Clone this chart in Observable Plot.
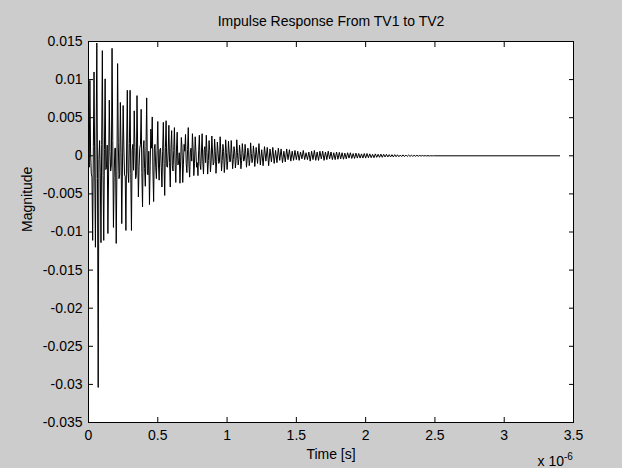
<!DOCTYPE html>
<html>
<head>
<meta charset="utf-8">
<script src="https://cdn.jsdelivr.net/npm/d3@7"></script>
<script src="https://cdn.jsdelivr.net/npm/@observablehq/plot@0.6"></script>
<style>
  html, body { margin: 0; padding: 0; background: #cccccc; }
  #chart { width: 622px; height: 468px; }
</style>
</head>
<body>
<div id="chart"></div>
<script>
// Early part of the response (0 – 1.2 µs), finely sampled, magnitudes in units of 1e-3
const earlyStartMicro = 0;
const earlyStepMicro = 0.005;
const earlyMagnitudeMilli = [
  4.0, -1.5, 9.9, 0.5, -2.3, -2.8, -11.1, 1.2, 11.0, -2.0,
  -12.0, 1.8, 14.8, -3.0, -30.4, -0.5, 2.0, -2.2, -11.4, 1.5,
  13.8, -2.6, -11.1, 0.8, 10.1, -1.8, -1.5, 1.4, -10.2, -2.4,
  7.3, 0.6, -2.0, -1.2, 14.1, 2.0, -9.4, -2.9, 1.0, 1.0,
  -11.5, -2.1, 12.1, 1.7, -3.0, -2.5, 7.0, 0.4, -8.9, -1.6,
  6.6, 1.3, -2.5, -2.7, -9.8, 0.9, 8.6, -2.0, -3.5, 1.6,
  8.6, -2.3, -9.8, 0.7, 1.5, -1.9, 5.9, 1.1, -3.0, -2.6,
  7.9, 0.5, -5.4, -1.4, 1.0, 1.5, 6.1, -2.2, -6.7, 0.8,
  2.0, -1.7, -4.0, 1.2, 7.6, -2.4, -2.5, 0.6, -6.4, -1.3,
  3.5, 1.0, 5.1, -2.0, -6.0, 0.9, 1.5, -1.5, -3.0, 0.7,
  4.5, -1.2, -3.2, 0.8, 1.0, -1.5, -4.1, 0.6, 4.4, -1.0,
  -5.2, 1.1, 4.6, -1.4, -1.5, 0.5, 4.0, -0.9, -4.1, 1.0,
  3.3, -1.3, -2.0, 0.7, 3.7, -1.1, -3.5, 0.9, 3.1, -1.2,
  -1.0, 0.4, -3.6, -0.8, 2.4, 1.0, -3.5, -1.1, 1.5, 0.6,
  2.8, -1.0, -2.2, 0.8, 3.7, -1.2, -2.8, 0.5, 1.0, -0.7,
  2.9, 0.9, -2.6, -1.0, 2.5, 0.6, -1.5, -0.9, -2.6, 0.7,
  2.7, -1.1, -1.8, 0.5, 2.9, -0.8, -2.4, 0.8, 1.2, -0.9,
  2.7, 0.4, -2.4, -0.6, 2.0, 0.7, -2.1, -0.8, 2.6, 0.5,
  -1.2, -0.9, 2.2, 0.6, -2.3, -0.7, 1.8, 0.5, -1.0, -0.8,
  2.5, 0.3, -2.0, -0.6, 1.5, 0.6, -2.2, -0.7, 2.1, 0.4,
  -1.8, -0.6, 1.9, 0.5, -0.8, -0.7, 2.0, 0.3, -1.7, -0.5,
  1.2, 0.5, -1.6, -0.6, 2.1, 0.4, -1.2, -0.5, 1.4, 0.3,
  -1.7, -0.6, 1.6, 0.4, -0.7, -0.5, 1.5, 0.3, -1.5, -0.4,
  1.0, 0.4, -1.3, -0.5, 1.7, 0.3, -0.9, -0.4, 1.3, 0.3
];
// Late part of the response (from 1.2 µs), coarser sampling, units of 1e-3
const lateStartMicro = 1.2;
const lateStepMicro = 0.01;
const lateMagnitudeMilli = [
  -1.4, 1.1, -1.0, 1.6, -1.2, 0.8, -1.3, 1.2, -0.7, 1.1,
  -1.3, 0.9, -0.8, 1.1, -1.0, 0.7, -0.9, 1.0, -0.6, 0.9,
  -0.9, 0.6, -0.8, 0.9, -0.5, 0.8, -0.7, 0.6, -0.6, 0.7,
  -0.5, 0.6, -0.6, 0.5, -0.4, 0.7, -0.5, 0.4, -0.5, 0.5,
  -0.7, 0.6, -0.5, 0.7, -0.6, 0.5, -0.6, 0.6, -0.4, 0.6,
  -0.6, 0.5, -0.5, 0.6, -0.4, 0.5, -0.5, 0.4, -0.5, 0.5,
  -0.45, 0.45, -0.4, 0.4, -0.45, 0.35, -0.4, 0.4, -0.3, 0.4,
  -0.35, 0.3, -0.35, 0.35, -0.3, 0.3, -0.3, 0.25, -0.3, 0.3,
  -0.3, 0.3, -0.25, 0.25, -0.25, 0.2, -0.25, 0.25, -0.2, 0.2,
  -0.2, 0.22, -0.2, 0.2, -0.15, 0.2, -0.15, 0.15, -0.15, 0.15,
  -0.15, 0.15, -0.12, 0.13, -0.12, 0.1, -0.1, 0.12, -0.1, 0.1,
  -0.08, 0.1, -0.08, 0.08, -0.07, 0.07, -0.06, 0.06, -0.05, 0.05,
  -0.04, 0.04, -0.03, 0.03, -0.02, 0.02, -0.02, 0.01, -0.01, 0.01,
  0
];
// Final flat sample where the plotted trace ends
const tailTimeMicro = 3.4;
const tailMagnitudeMilli = 0;

const xTicks = [0, 0.5, 1, 1.5, 2, 2.5, 3, 3.5];
const yTicks = [0.015, 0.01, 0.005, 0, -0.005, -0.01, -0.015, -0.02, -0.025, -0.03, -0.035];

const titleText = "Impulse Response From TV1 to TV2";
const xLabelText = "Time [s]";
const yLabelText = "Magnitude";
const xScaleText = "x 10";
const xScaleExp = "-6";

const data = []
  .concat(earlyMagnitudeMilli.map((m, i) => ({ t: earlyStartMicro + i * earlyStepMicro, v: m / 1000 })))
  .concat(lateMagnitudeMilli.map((m, i) => ({ t: lateStartMicro + i * lateStepMicro, v: m / 1000 })))
  .concat([{ t: tailTimeMicro, v: tailMagnitudeMilli / 1000 }]);

const fmtY = d => { const s = +d.toFixed(3); return s === 0 ? "0" : String(s); };
const fmtX = d => String(+d.toFixed(1));
const blank = () => "";

const chart = Plot.plot({
  width: 622,
  height: 468,
  marginLeft: 88,
  marginRight: 49,
  marginTop: 41,
  marginBottom: 46,
  style: {
    background: "#cccccc",
    color: "black",
    fontFamily: "'Liberation Sans', Arial, sans-serif",
    fontSize: "14px",
    overflow: "visible"
  },
  x: { domain: [0, 3.5], ticks: xTicks, label: null },
  y: { domain: [-0.035, 0.015], ticks: yTicks, label: null },
  marks: [
    Plot.frame({ fill: "white", stroke: null }),
    Plot.line(data, { x: "t", y: "v", stroke: "black", strokeWidth: 1 }),
    Plot.frame({ stroke: "black", fill: "none" }),
    Plot.axisX(xTicks, { anchor: "bottom", tickSize: -5, tickPadding: 13, tickFormat: fmtX, label: null, fontSize: 14 }),
    Plot.axisX(xTicks, { anchor: "top", tickSize: -5, tickFormat: blank, label: null }),
    Plot.axisY(yTicks, { anchor: "left", tickSize: -5, tickPadding: 11, tickFormat: fmtY, label: null, fontSize: 14 }),
    Plot.axisY(yTicks, { anchor: "right", tickSize: -5, tickFormat: blank, label: null }),
    Plot.text([titleText], { text: d => d, frameAnchor: "top", dy: -20, lineAnchor: "middle", fontSize: 14 }),
    Plot.text([xLabelText], { text: d => d, frameAnchor: "bottom", dy: 32.5, lineAnchor: "middle", fontSize: 14 }),
    Plot.text([yLabelText], { text: d => d, frameAnchor: "left", dx: -60.5, rotate: -90, lineAnchor: "middle", fontSize: 14 }),
    Plot.text([xScaleText], { text: d => d, frameAnchor: "bottom-right", dx: -36, dy: 39.5, textAnchor: "start", lineAnchor: "middle", fontSize: 14 }),
    Plot.text([xScaleExp], { text: d => d, frameAnchor: "bottom-right", dx: -9.5, dy: 34, textAnchor: "start", lineAnchor: "middle", fontSize: 10 })
  ]
});

document.getElementById("chart").appendChild(chart);
</script>
</body>
</html>
